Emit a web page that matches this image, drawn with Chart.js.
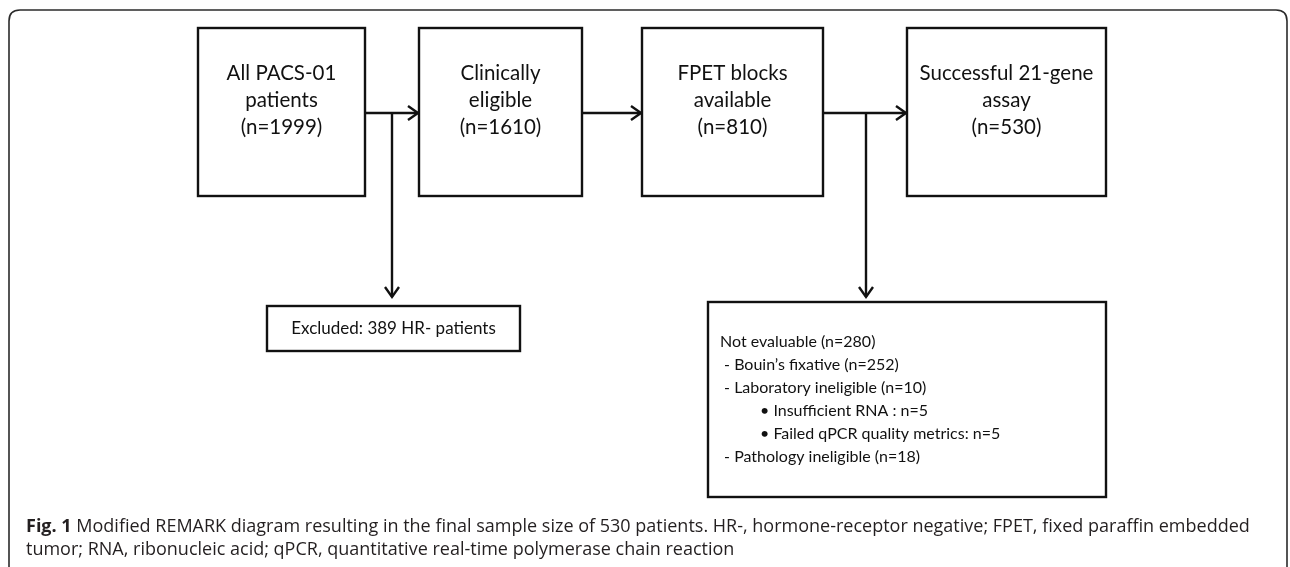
<!DOCTYPE html>
<html>
<head>
<meta charset="utf-8">
<script src="https://cdn.jsdelivr.net/npm/chart.js@4.4.1/dist/chart.umd.min.js"></script>
<style>
  html, body { margin: 0; padding: 0; background: #fff; }
  #wrap { width: 1290px; height: 567px; }
</style>
</head>
<body>
<div id="wrap"><canvas id="flow" width="1290" height="567"></canvas></div>
<script>
// --- data ---
const stageLabels = ['All PACS-01\npatients', 'Clinically\neligible', 'FPET blocks\navailable', 'Successful 21-gene\nassay'];
const stageN = [1999, 1610, 810, 530];
const excludedN = 389;
const excludedLabel = 'HR- patients';
const notEvalLabels = ['Not evaluable', 'Bouin\u2019s fixative', 'Laboratory ineligible', 'Insufficient RNA', 'Failed qPCR quality metrics', 'Pathology ineligible'];
const notEvalN = [280, 252, 10, 5, 5, 18];
const notEvalLevel = [0, 1, 1, 2, 2, 1];
const captionBold = 'Fig. 1';
const captionLines = [
  ' Modified REMARK diagram resulting in the final sample size of 530 patients. HR-, hormone-receptor negative; FPET, fixed paraffin embedded',
  'tumor; RNA, ribonucleic acid; qPCR, quantitative real-time polymerase chain reaction'
];

// --- layout (in axis units) ---
const boxLeft = [198, 419, 642, 907];
const boxRight = [365, 582, 823, 1106];
const boxTop = 28, boxBottom = 196, flowY = 113;
const sideBoxes = {
  excluded: { l: 267, r: 520, t: 306, b: 351, from: 392, tip: 297 },
  notEval: { l: 708, r: 1106, t: 302, b: 497, from: 866, tip: 297 }
};

function notEvalText(i) {
  const n = notEvalN[i];
  if (notEvalLevel[i] === 2) return '\u2022 ' + notEvalLabels[i] + (i === 3 ? ' : n=' : ': n=') + n;
  if (notEvalLevel[i] === 1) return ' - ' + notEvalLabels[i] + ' (n=' + n + ')';
  return notEvalLabels[i] + ' (n=' + n + ')';
}

const ink = '#111';

const flowPlugin = {
  id: 'flow',
  afterDraw(chart) {
    const ctx = chart.ctx;
    const xs = chart.scales.x, ys = chart.scales.y;
    const X = v => xs.getPixelForValue(v);
    const Y = v => ys.getPixelForValue(v);
    ctx.save();

    // outer frame
    ctx.strokeStyle = '#2b2b2b';
    ctx.lineWidth = 1.6;
    ctx.beginPath();
    const fl = X(9), ft = Y(10), fr = X(1287), fb = Y(600), rad = 11;
    ctx.moveTo(fl, fb);
    ctx.lineTo(fl, ft + rad);
    ctx.quadraticCurveTo(fl, ft, fl + rad, ft);
    ctx.lineTo(fr - rad, ft);
    ctx.quadraticCurveTo(fr, ft, fr, ft + rad);
    ctx.lineTo(fr, fb);
    ctx.stroke();

    ctx.strokeStyle = ink;
    ctx.fillStyle = ink;
    ctx.lineWidth = 2.4;

    function arrowHead(x, y, dir) {
      const L = 10, W = 7;
      ctx.beginPath();
      if (dir === 'right') {
        ctx.moveTo(x - L, y - W); ctx.lineTo(x, y); ctx.lineTo(x - L, y + W);
      } else {
        ctx.moveTo(x - W, y - L); ctx.lineTo(x, y); ctx.lineTo(x + W, y - L);
      }
      ctx.stroke();
    }

    // main boxes
    ctx.font = '20.5px Lato, "Open Sans", sans-serif';
    ctx.textAlign = 'center';
    ctx.textBaseline = 'middle';
    stageLabels.forEach((lab, i) => {
      const l = X(boxLeft[i]), r = X(boxRight[i]);
      ctx.strokeRect(l, Y(boxTop), r - l, Y(boxBottom) - Y(boxTop));
      const lines = lab.split('\n').concat('(n=' + stageN[i] + ')');
      const cx = (l + r) / 2;
      lines.forEach((t, k) => ctx.fillText(t, cx, Y(73 + k * 27)));
      if (i < stageLabels.length - 1) {
        ctx.beginPath();
        ctx.moveTo(r, Y(flowY));
        ctx.lineTo(X(boxLeft[i + 1]), Y(flowY));
        ctx.stroke();
        arrowHead(X(boxLeft[i + 1]) - 1, Y(flowY), 'right');
      }
    });

    // side branches
    Object.values(sideBoxes).forEach(sb => {
      ctx.beginPath();
      ctx.moveTo(X(sb.from), Y(flowY));
      ctx.lineTo(X(sb.from), Y(sb.tip));
      ctx.stroke();
      arrowHead(X(sb.from), Y(sb.tip), 'down');
      ctx.strokeRect(X(sb.l), Y(sb.t), X(sb.r) - X(sb.l), Y(sb.b) - Y(sb.t));
    });

    // excluded text
    ctx.font = '17px Lato, "Open Sans", sans-serif';
    ctx.textAlign = 'center';
    const ex = sideBoxes.excluded;
    ctx.fillText('Excluded: ' + excludedN + ' ' + excludedLabel, (X(ex.l) + X(ex.r)) / 2, Y(329));

    // not evaluable text
    ctx.textAlign = 'left';
    ctx.font = '16px Lato, "Open Sans", sans-serif';
    notEvalLabels.forEach((_, i) => {
      const indent = notEvalLevel[i] === 2 ? 40 : 0;
      ctx.fillText(notEvalText(i), X(sideBoxes.notEval.l + 12 + indent), Y(342 + i * 23));
    });

    // caption
    ctx.fillStyle = '#231f20';
    ctx.textBaseline = 'alphabetic';
    ctx.font = 'bold 18px "Open Sans", sans-serif';
    const cx0 = X(26);
    ctx.fillText(captionBold, cx0, Y(532));
    const bw = ctx.measureText(captionBold).width;
    ctx.font = '18px "Open Sans", sans-serif';
    ctx.fillText(captionLines[0], cx0 + bw, Y(532));
    ctx.fillText(captionLines[1], cx0, Y(555));

    ctx.restore();
  }
};

new Chart(document.getElementById('flow'), {
  type: 'scatter',
  data: { datasets: [{ data: stageN.map((n, i) => ({ x: (boxLeft[i] + boxRight[i]) / 2, y: flowY })), pointRadius: 0 }] },
  options: {
    responsive: false,
    animation: false,
    layout: { padding: 0 },
    plugins: { legend: { display: false }, tooltip: { enabled: false } },
    scales: {
      x: { type: 'linear', min: 0, max: 1290, display: false },
      y: { type: 'linear', min: 0, max: 567, reverse: true, display: false }
    }
  },
  plugins: [flowPlugin]
});
</script>
</body>
</html>
